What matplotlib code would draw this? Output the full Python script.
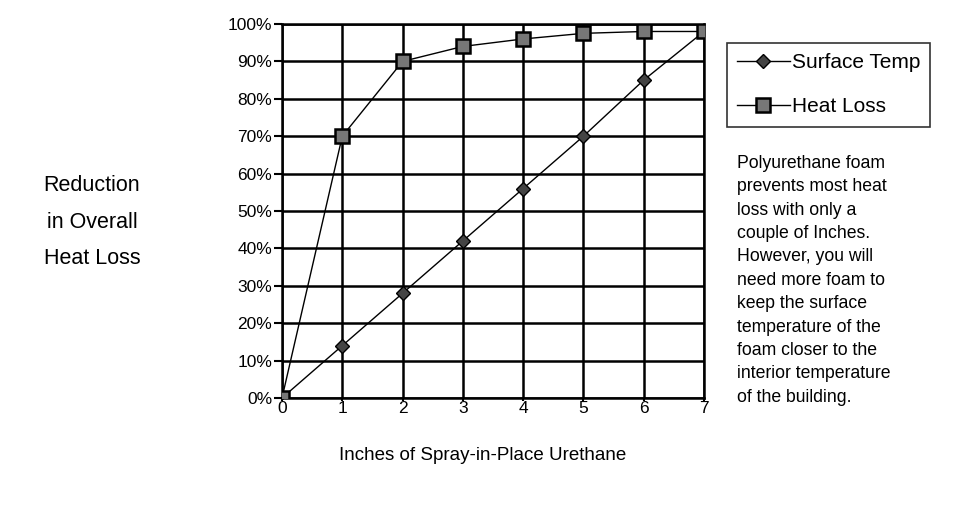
import numpy as np
import matplotlib.pyplot as plt
from matplotlib.ticker import PercentFormatter

plt.rcParams['font.family'] = ['Liberation Sans', 'DejaVu Sans']

inches = [0, 1, 2, 3, 4, 5, 6, 7]
surface_temp = [0, 14, 28, 42, 56, 70, 85, 98]
heat_loss = [0, 70, 90, 94, 96, 97.5, 98, 98]

note = ("Polyurethane foam\nprevents most heat\nloss with only a\ncouple of Inches.\n"
        "However, you will\nneed more foam to\nkeep the surface\ntemperature of the\n"
        "foam closer to the\ninterior temperature\nof the building.")

fig = plt.figure(figsize=(9.57, 5.17), dpi=100)
ax = fig.add_axes([282 / 957, 1 - 398 / 517, (704 - 282) / 957, (398 - 24) / 517])

ax.plot(inches, surface_temp, color='black', lw=1, marker='D', ms=7,
        mfc='#444444', mec='black', mew=1, label='Surface Temp', zorder=3)
ax.plot(inches, heat_loss, color='black', lw=1, marker='s', ms=10,
        mfc='#777777', mec='black', mew=1.8, label='Heat Loss', zorder=3)

ax.set_xlim(0, 7)
ax.set_ylim(0, 100)
ax.set_xticks(range(0, 8))
ax.set_yticks(range(0, 101, 10))
ax.yaxis.set_major_formatter(PercentFormatter(decimals=0))
ax.grid(True, color='black', lw=1.8)
for s in ax.spines.values():
    s.set_linewidth(1.8)
ax.tick_params(axis='y', labelsize=12.5, length=6, width=1.5, direction='out', pad=1)
ax.tick_params(axis='x', labelsize=12.5, length=2, width=1.5, direction='out', pad=0)

fig.text(92 / 957, 1 - 222 / 517, 'Reduction\nin Overall\nHeat Loss', ha='center', va='center',
         fontsize=15.5, linespacing=1.95)
fig.text(483 / 957, 1 - 456 / 517, 'Inches of Spray-in-Place Urethane', ha='center', va='center',
         fontsize=13.5)
fig.text(737 / 957, 1 - 155 / 517, note, ha='left', va='top', fontsize=12.7, linespacing=1.49)

leg = fig.legend(loc='upper left', bbox_to_anchor=(727 / 957, 1 - 43 / 517), fontsize=15,
                 frameon=True, fancybox=False, edgecolor='black', handlelength=2.5,
                 labelspacing=1.2, borderpad=0.5, handletextpad=0.1, borderaxespad=0)
leg.get_frame().set_linewidth(1.2)

fig.savefig('out.png', dpi=100)
